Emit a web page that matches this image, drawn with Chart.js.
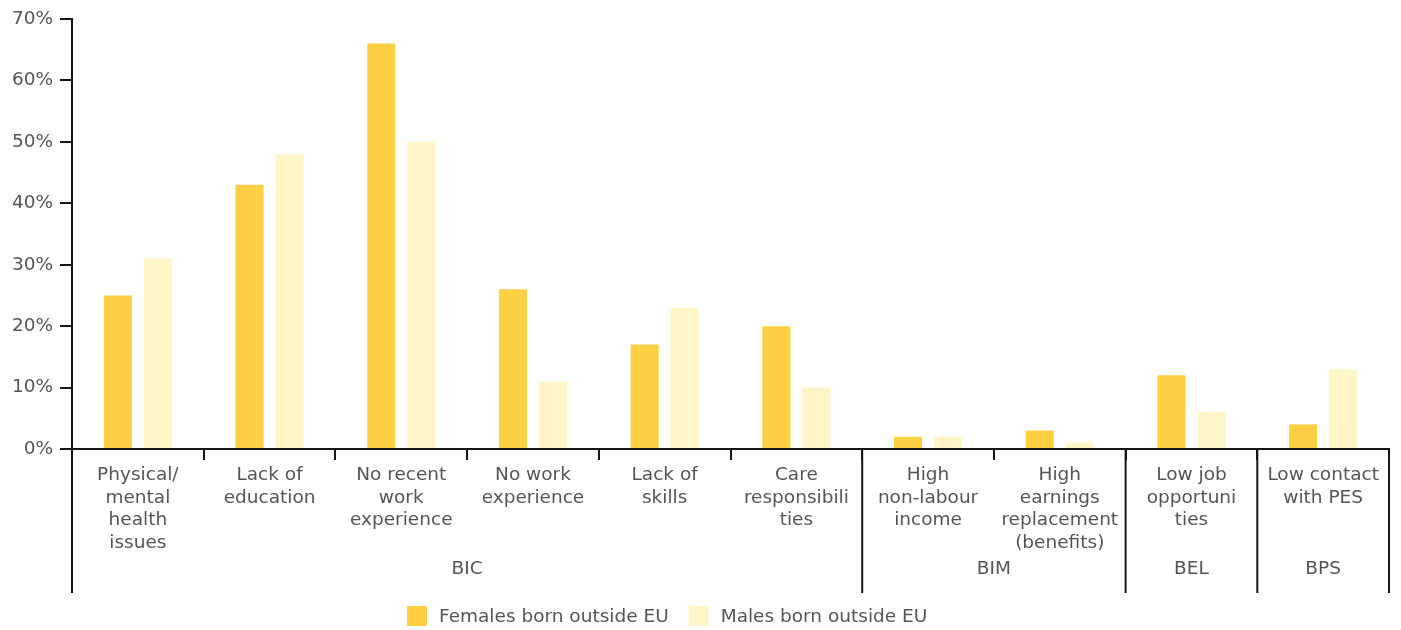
<!DOCTYPE html>
<html>
<head>
<meta charset="utf-8">
<script src="https://cdn.jsdelivr.net/npm/chart.js@4.4.1/dist/chart.umd.min.js"></script>
<style>
  html, body { margin: 0; padding: 0; background: #fff; }
</style>
</head>
<body>
<canvas id="barrierChart" width="1401" height="630"></canvas>
<script>
// barriers, one entry per bar pair (multi-line labels)
const categories = [
    ['Physical/', 'mental', 'health', 'issues'],
    ['Lack of', 'education'],
    ['No recent', 'work', 'experience'],
    ['No work', 'experience'],
    ['Lack of', 'skills'],
    ['Care', 'responsibili', 'ties'],
    ['High', 'non-labour', 'income'],
    ['High', 'earnings', 'replacement', '(benefits)'],
    ['Low job', 'opportuni', 'ties'],
    ['Low contact', 'with PES']
];
const groupLabels = ['BIC', 'BIM', 'BEL', 'BPS'];
const groupSizes = [6, 2, 1, 1];

const females = [25, 43, 66, 26, 17, 20, 2, 3, 12, 4];
const males = [31, 48, 50, 11, 23, 10, 2, 1, 6, 13];

const yMax = 70;
const yStep = 10;

const seriesNames = ['Females born outside EU', 'Males born outside EU'];
const seriesColors = ['#FDD043', '#FFF5C7'];

const textColor = '#555555';
const lineColor = '#151515';
const fontFamily = "'DejaVu Sans', sans-serif";
const fontSize = 18.5;
const axisHeight = 144;

// second row of the x axis: group separators, group names, and the legend
const groupAxis = {
    id: 'groupAxis',
    afterDraw(chart) {
        const ctx = chart.ctx;
        const area = chart.chartArea;
        const x = chart.scales.x;
        const half = (x.getPixelForValue(1) - x.getPixelForValue(0)) / 2;
        const top = area.bottom;
        const bottom = top + axisHeight;

        ctx.save();
        ctx.strokeStyle = lineColor;
        ctx.lineWidth = 2;
        ctx.fillStyle = textColor;
        ctx.font = fontSize + 'px ' + fontFamily;
        ctx.textAlign = 'center';
        ctx.textBaseline = 'middle';

        const left0 = x.getPixelForValue(0) - half;
        ctx.beginPath();
        ctx.moveTo(left0, top);
        ctx.lineTo(left0, bottom);
        ctx.stroke();

        let start = 0;
        groupSizes.forEach(function (n, i) {
            const left = x.getPixelForValue(start) - half;
            const right = x.getPixelForValue(start + n - 1) + half;
            ctx.beginPath();
            ctx.moveTo(right, top);
            ctx.lineTo(right, bottom);
            ctx.stroke();
            ctx.fillText(groupLabels[i], (left + right) / 2, top + 120);
            start += n;
        });

        // legend
        ctx.textAlign = 'left';
        let lx = 407;
        const ly = chart.height - 14;
        chart.data.datasets.forEach(function (ds) {
            ctx.fillStyle = ds.backgroundColor;
            ctx.fillRect(lx, ly - 10, 20, 20);
            ctx.fillStyle = textColor;
            ctx.fillText(ds.label, lx + 32, ly + 1);
            lx += 32 + ctx.measureText(ds.label).width + 20;
        });
        ctx.restore();
    }
};

const canvas = document.getElementById('barrierChart');

new Chart(canvas, {
    type: 'bar',
    data: {
        labels: categories,
        datasets: [
            { label: seriesNames[0], data: females, backgroundColor: seriesColors[0] },
            { label: seriesNames[1], data: males, backgroundColor: seriesColors[1] }
        ]
    },
    options: {
        responsive: false,
        animation: false,
        devicePixelRatio: 1,
        categoryPercentage: 0.6075,
        barPercentage: 0.7,
        layout: {
            padding: { top: 19, right: 12, bottom: 37, left: 0 }
        },
        plugins: {
            legend: { display: false },
            tooltip: { enabled: false }
        },
        scales: {
            x: {
                grid: {
                    display: true,
                    drawOnChartArea: false,
                    offset: true,
                    tickLength: 11,
                    color: lineColor,
                    lineWidth: 2
                },
                border: { display: true, color: lineColor, width: 2 },
                ticks: {
                    color: textColor,
                    autoSkip: false,
                    maxRotation: 0,
                    padding: 4,
                    font: { family: fontFamily, size: fontSize, lineHeight: 1.22 }
                },
                afterFit: function (scale) {
                    scale.height = axisHeight;
                }
            },
            y: {
                min: 0,
                max: yMax,
                grid: {
                    display: true,
                    drawOnChartArea: false,
                    tickLength: 12,
                    color: lineColor,
                    lineWidth: 2
                },
                border: { display: true, color: lineColor, width: 2 },
                ticks: {
                    stepSize: yStep,
                    color: textColor,
                    padding: 7,
                    font: { family: fontFamily, size: fontSize },
                    callback: function (v) { return v + '%'; }
                },
                afterFit: function (scale) {
                    scale.width = 72;
                }
            }
        }
    },
    plugins: [groupAxis]
});
</script>
</body>
</html>
